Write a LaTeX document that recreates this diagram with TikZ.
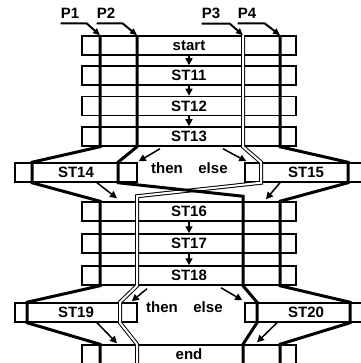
\documentclass[tikz,border=0pt]{standalone}
\usepackage{fontspec}
\setmainfont{Liberation Sans}
\usetikzlibrary{arrows.meta,positioning,calc}

\begin{document}
\begin{tikzpicture}[
  x=1pt, y=-1pt,
  font=\fontsize{15}{17}\selectfont\bfseries,
  stbox/.style={draw, line width=1.5pt, fill=white, minimum height=19pt, inner sep=0pt},
  mainbox/.style={stbox, minimum width=214pt},
  sidebox/.style={stbox, minimum width=122pt},
  proc/.style={line width=3pt},
  procd/.style={double, line width=1pt, double distance=2pt},
  feed/.style={line width=2pt, -{Triangle[length=7pt,width=6pt]}},
  flow/.style={line width=1.5pt, -{Triangle[length=7pt,width=7pt]}},
  plabel/.style={inner sep=0pt}
]
\useasboundingbox (0,0) rectangle (360,363);

% Statement boxes
\node[mainbox] (ststart) at (189,45.5) {start};
\node[mainbox] (st11) at (189,75.5) {ST11};
\node[mainbox] (st12) at (189,106) {ST12};
\node[mainbox] (st13) at (189,136.5) {ST13};
\node[sidebox] (st14) at (76,172.5) {ST14};
\node[sidebox] (st15) at (306,172.5) {ST15};
\node[mainbox] (st16) at (189,211.5) {ST16};
\node[mainbox] (st17) at (189,243.5) {ST17};
\node[mainbox] (st18) at (189,275.5) {ST18};
\node[sidebox] (st19) at (76,312.5) {ST19};
\node[sidebox] (st20) at (306,312.5) {ST20};
\node[mainbox] (stend) at (189,354.5) {end};

% Branch labels
\node (then1) at (167,168) {then};
\node (else1) at (213,168) {else};
\node (then2) at (162,307) {then};
\node (else2) at (208,307) {else};

% Process columns
\coordinate (c1) at (100,0);
\coordinate (c2) at (137,0);
\coordinate (c3) at (243,0);
\coordinate (c4) at (280,0);
\coordinate (a1) at (32,0);
\coordinate (a2) at (118,0);
\coordinate (a3) at (261,0);
\coordinate (a4) at (348,0);
\coordinate (b1) at (27,0);
\coordinate (b3) at (120,0);
\coordinate (b2) at (257,0);
\coordinate (b4) at (350,0);

% Processes
\draw[procd] (c3|-ststart.north) -- (c3|-st13.south) -- (a3|-st15.north)
  -- (a3|-st15.south) -- ($(c2|-st16.north)+(0,-5)$) -- (c2|-st18.south)
  -- (b3|-st19.north) -- (b3|-st19.south) -- (c2|-stend.north) -- (c2|-stend.south);
\draw[proc] (c1|-ststart.north) -- (c1|-st13.south) -- (a1|-st14.north)
  -- (a1|-st14.south) -- (c1|-st16.north) -- (c1|-st18.south)
  -- (b1|-st19.north) -- (b1|-st19.south) -- (c1|-stend.north) -- (c1|-stend.south);
\draw[proc] (c2|-ststart.north) -- (c2|-st13.south) -- (a2|-st14.north)
  -- (a2|-st14.south) -- ($(c3|-st16.north)+(0,-5)$) -- (c3|-st18.south)
  -- (b2|-st20.north) -- (b2|-st20.south) -- (c3|-stend.north) -- (c3|-stend.south);
\draw[proc] (c4|-ststart.north) -- (c4|-st13.south) -- (a4|-st15.north)
  -- (a4|-st15.south) -- (c4|-st16.north) -- (c4|-st18.south)
  -- (b4|-st20.north) -- (b4|-st20.south) -- (c4|-stend.north) -- (c4|-stend.south);

% Process entries
\node[plabel] (p1) at (70,13) {P1};
\node[plabel] (p2) at (106,13) {P2};
\node[plabel] (p3) at (211,13) {P3};
\node[plabel] (p4) at (247,13) {P4};
\draw[feed] ([yshift=-5pt]p1.south west) -- ++(26,0) -- (c1|-ststart.north);
\draw[feed] ([yshift=-5pt]p2.south west) -- ++(26,0) -- (c2|-ststart.north);
\draw[feed] ([yshift=-5pt]p3.south west) -- ++(28,0) -- (c3|-ststart.north);
\draw[feed] ([yshift=-5pt]p4.south west) -- ++(27,0) -- (c4|-ststart.north);

% Control flow
\draw[flow] (ststart) -- (st11);
\draw[flow] (st11) -- (st12);
\draw[flow] (st12) -- (st13);
\draw[flow] (st16) -- (st17);
\draw[flow] (st17) -- (st18);
\draw[flow] ($(st13.south)+(-29,2)$) -- ($(st14.north east)+(1,-1)$);
\draw[flow] ($(st13.south)+(34,2)$) -- ($(st15.north west)+(2,-1)$);
\draw[flow] ($(st14.south)+(21,0)$) -- ($(c2|-st16.north)+(-20,-3)$);
\draw[flow] ($(st15.south)+(-26,0)$) -- ($(c3|-st16.north)+(23,-2)$);
\draw[flow] ($(st18.south)+(-42,3)$) -- ($(st19.north east)+(-6,-1)$);
\draw[flow] ($(st18.south)+(32,2)$) -- ($(st20.north west)+(-2,-2)$);
\draw[flow] ($(st19.south)+(21,0)$) -- ($(c2|-stend.north)+(-20,-1)$);
\draw[flow] ($(st20.south)+(-29,0)$) -- ($(c3|-stend.north)+(14,-2)$);
\end{tikzpicture}
\end{document}
